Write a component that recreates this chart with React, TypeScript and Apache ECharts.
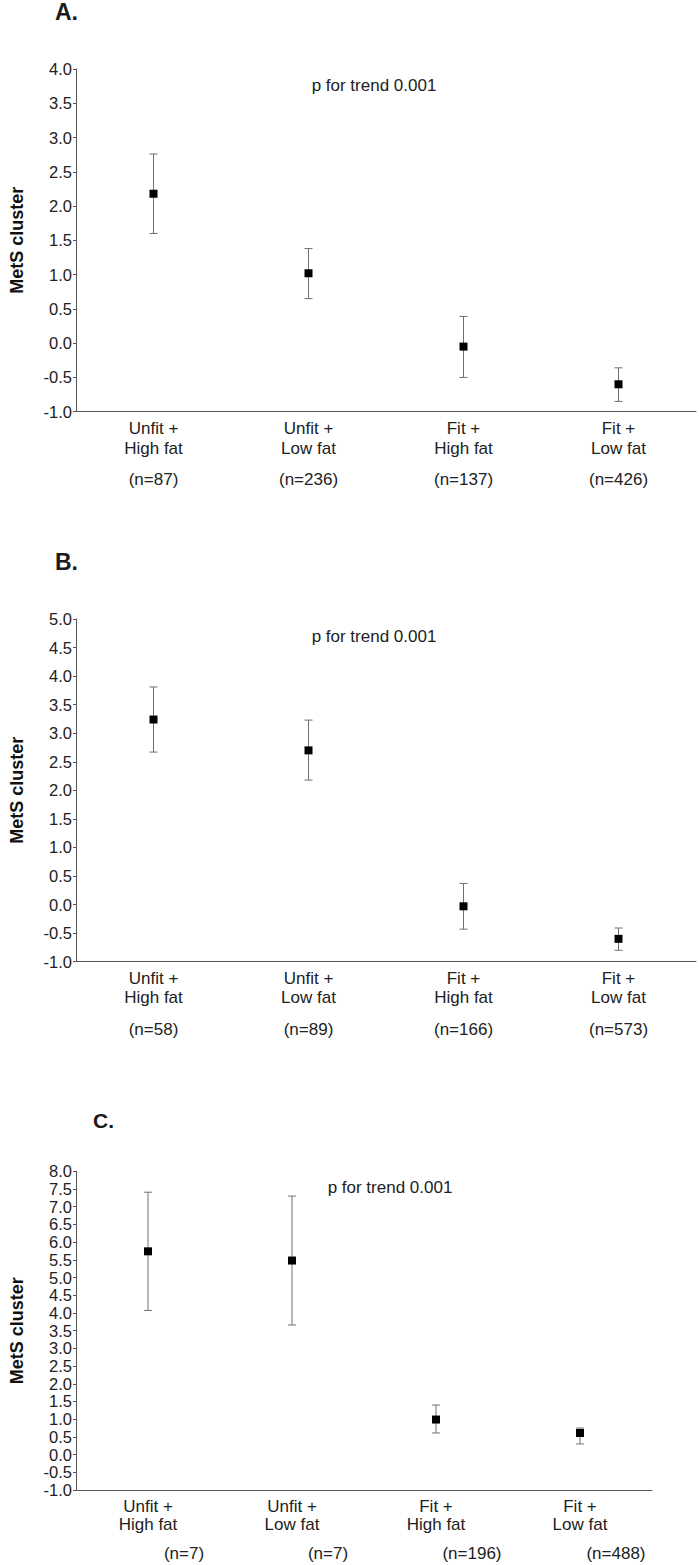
import React, { useEffect, useRef } from "react";
import * as echarts from "echarts";

const categories = ["Unfit +\nHigh fat", "Unfit +\nLow fat", "Fit +\nHigh fat", "Fit +\nLow fat"];

const meanA = [2.18, 1.02, -0.05, -0.6];
const lowA = [1.6, 0.65, -0.5, -0.85];
const highA = [2.76, 1.38, 0.39, -0.36];
const nA = ["(n=87)", "(n=236)", "(n=137)", "(n=426)"];

const meanB = [3.24, 2.7, -0.03, -0.6];
const lowB = [2.67, 2.18, -0.43, -0.8];
const highB = [3.81, 3.23, 0.37, -0.41];
const nB = ["(n=58)", "(n=89)", "(n=166)", "(n=573)"];

const meanC = [5.74, 5.48, 0.99, 0.61];
const lowC = [4.07, 3.66, 0.61, 0.3];
const highC = [7.41, 7.3, 1.4, 0.75];
const nC = ["(n=7)", "(n=7)", "(n=196)", "(n=488)"];

const yMaxes = [4, 5, 8];
const panelTitles = ["A.", "B.", "C."];
const pText = "p for trend 0.001";

const FONT = '"Liberation Sans", Arial, Helvetica, sans-serif';
const AXIS_COLOR = "#555";
const TEXT_COLOR = "#222";

export default function App() {
  const ref = useRef<HTMLDivElement>(null);
  useEffect(() => {
    document.body.style.margin = "0";
    if (!ref.current) return;
    const chart = echarts.init(ref.current, null, { renderer: "svg" });

    const grids = [
      { left: 66, top: 69, width: 630, height: 342.7 },
      { left: 66, top: 619, width: 630, height: 342.7 },
      { left: 67.5, top: 1171.3, width: 584.5, height: 318.7 },
    ];
    const nLabels = [nA, nB, nC];
    const means = [meanA, meanB, meanC];
    const lows = [lowA, lowB, lowC];
    const highs = [highA, highB, highC];
    const catLineHeights = [20, 19, 18.5];
    const catMargins = [6.6, 7, 7];
    const nOffsets = [58, 58, 53];
    const nPadLeft = [0, 0, 72];

    const xAxis: any[] = [];
    const yAxis: any[] = [];
    const series: any[] = [];

    grids.forEach((g, k) => {
      xAxis.push({
        type: "category",
        gridIndex: k,
        position: "bottom",
        data: categories,
        boundaryGap: true,
        axisLine: { onZero: false, lineStyle: { color: AXIS_COLOR, width: 1 } },
        axisTick: { alignWithLabel: true, length: 4, lineStyle: { color: AXIS_COLOR } },
        axisLabel: {
          color: TEXT_COLOR,
          fontFamily: FONT,
          fontSize: 17,
          lineHeight: catLineHeights[k],
          margin: catMargins[k],
          verticalAlign: "top",
        },
        splitLine: { show: false },
      });
      xAxis.push({
        type: "category",
        gridIndex: k,
        position: "bottom",
        offset: nOffsets[k],
        data: nLabels[k],
        boundaryGap: true,
        axisLine: { show: false, onZero: false },
        axisTick: { show: false },
        axisLabel: {
          color: TEXT_COLOR,
          fontFamily: FONT,
          fontSize: 17,
          lineHeight: 20,
          margin: 0,
          verticalAlign: "top",
          padding: [0, 0, 0, nPadLeft[k]],
        },
        splitLine: { show: false },
      });
      yAxis.push({
        type: "value",
        gridIndex: k,
        min: -1,
        max: yMaxes[k],
        interval: 0.5,
        name: "MetS cluster",
        nameLocation: "middle",
        nameRotate: 90,
        nameGap: 50,
        nameTextStyle: { fontFamily: FONT, fontSize: 18, fontWeight: "bold", color: "#111" },
        axisLine: { show: true, onZero: false, lineStyle: { color: AXIS_COLOR, width: 1 } },
        axisTick: { show: true, length: 3, lineStyle: { color: AXIS_COLOR } },
        axisLabel: {
          color: TEXT_COLOR,
          fontFamily: FONT,
          fontSize: 16.5,
          margin: 4,
          formatter: (v: number) => v.toFixed(1),
        },
        splitLine: { show: false },
      });

      const errData = categories.map((_, i) => [i, lows[k][i], highs[k][i]]);
      series.push({
        type: "custom",
        xAxisIndex: 2 * k,
        yAxisIndex: k,
        data: errData,
        z: 2,
        renderItem: (params: any, api: any) => {
          const x = api.value(0);
          const lo = api.coord([x, api.value(1)]);
          const hi = api.coord([x, api.value(2)]);
          const hw = 4;
          const style = { stroke: "#707070", lineWidth: 1 };
          return {
            type: "group",
            children: [
              { type: "line", shape: { x1: lo[0], y1: lo[1], x2: hi[0], y2: hi[1] }, style },
              { type: "line", shape: { x1: lo[0] - hw, y1: lo[1], x2: lo[0] + hw, y2: lo[1] }, style },
              { type: "line", shape: { x1: hi[0] - hw, y1: hi[1], x2: hi[0] + hw, y2: hi[1] }, style },
            ],
          };
        },
      });
      series.push({
        type: "scatter",
        xAxisIndex: 2 * k,
        yAxisIndex: k,
        data: means[k],
        symbol: "rect",
        symbolSize: 8,
        itemStyle: { color: "#000", opacity: 1 },
        z: 3,
      });
    });

    const titlePos = [
      { x: 55, y: 12, size: 23 },
      { x: 55, y: 562, size: 23 },
      { x: 93, y: 1120, size: 21 },
    ];
    const pPos = [
      { x: 374, y: 85 },
      { x: 374, y: 636 },
      { x: 390, y: 1187 },
    ];

    const graphic: any[] = [];
    panelTitles.forEach((t, k) => {
      graphic.push({
        type: "text",
        x: titlePos[k].x,
        y: titlePos[k].y,
        style: {
          text: t,
          fontFamily: FONT,
          fontSize: titlePos[k].size,
          fontWeight: "bold",
          fill: "#1a1a1a",
          textAlign: "left",
          textVerticalAlign: "middle",
        },
      });
      graphic.push({
        type: "text",
        x: pPos[k].x,
        y: pPos[k].y,
        style: {
          text: pText,
          fontFamily: FONT,
          fontSize: 17,
          fill: TEXT_COLOR,
          textAlign: "center",
          textVerticalAlign: "middle",
        },
      });
    });

    chart.setOption({
      animation: false,
      backgroundColor: "#fff",
      grid: grids.map((g) => ({ ...g, containLabel: false })),
      xAxis,
      yAxis,
      series,
      graphic,
    });
    return () => chart.dispose();
  }, []);
  return <div ref={ref} style={{ width: 699, height: 1565 }} />;
}
